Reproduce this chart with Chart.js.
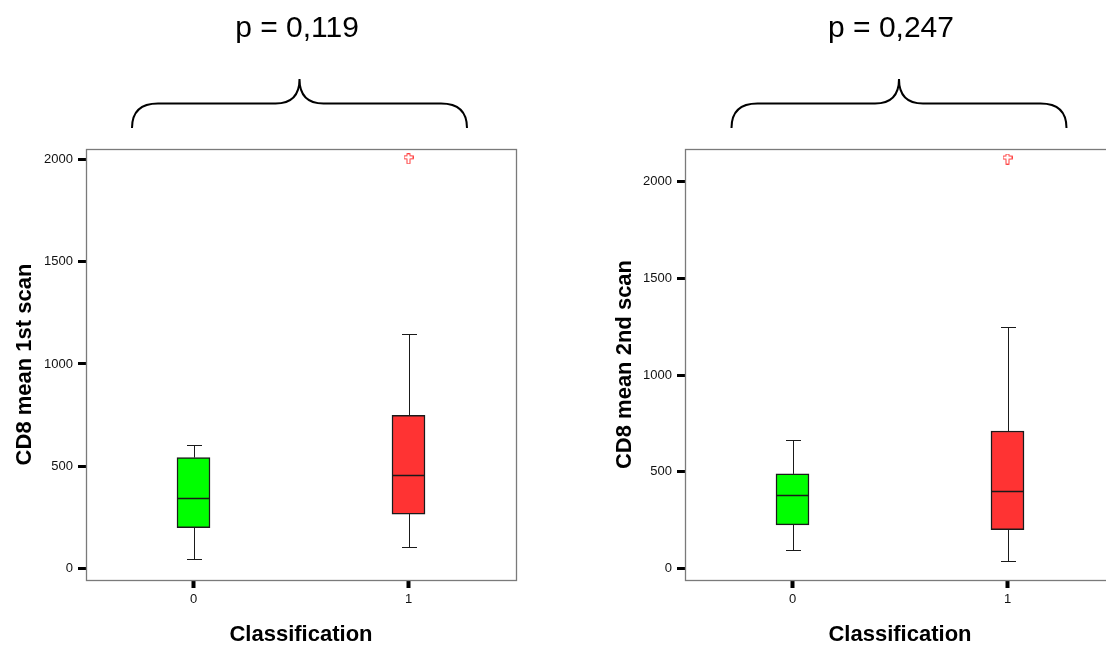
<!DOCTYPE html>
<html><head><meta charset="utf-8">
<script src="https://cdn.jsdelivr.net/npm/chart.js@4/dist/chart.umd.min.js"></script>
<style>
html,body{margin:0;padding:0;background:#fff;overflow:hidden;width:1106px;height:648px;position:relative;}
#c1{position:absolute;left:0;top:0;}
#c2{position:absolute;left:560px;top:0;}
</style></head><body>
<canvas id="c1" width="560" height="648"></canvas>
<canvas id="c2" width="600" height="648"></canvas>
<script>
// ---- data ----
const categories = ['0', '1'];
const yTickValues = [0, 500, 1000, 1500, 2000];
const boxColors = ['#00ff00', '#ff3333'];

// CD8 mean 1st scan: five-number summaries per class
const scan1Min    = [48, 106];
const scan1Q1     = [200, 267];
const scan1Median = [347, 457];
const scan1Q3     = [543, 749];
const scan1Max    = [602, 1145];
const scan1Outlier = [null, 2002];

// CD8 mean 2nd scan
const scan2Min    = [93, 37];
const scan2Q1     = [225, 200];
const scan2Median = [381, 402];
const scan2Q3     = [489, 711];
const scan2Max    = [665, 1248];
const scan2Outlier = [null, 2118];

const pLabels = ['p = 0,119', 'p = 0,247'];
const yTitles = ['CD8 mean 1st scan', 'CD8 mean 2nd scan'];
const xTitle = 'Classification';

const FONT = "'Liberation Sans', Arial, Helvetica, sans-serif";

// outlier marker (hollow red cross)
const crossImg = document.createElement('canvas');
crossImg.width = 10; crossImg.height = 11;
(function(){
  const c = crossImg.getContext('2d');
  c.beginPath();
  const p = [[3.5,0.5],[6.5,0.5],[6.5,2.5],[9.5,2.5],[9.5,5.5],[6.5,5.5],[6.5,10.5],[3.5,10.5],[3.5,5.5],[0.5,5.5],[0.5,2.5],[3.5,2.5]];
  c.moveTo(p[0][0], p[0][1]);
  for (let i = 1; i < p.length; i++) c.lineTo(p[i][0], p[i][1]);
  c.closePath();
  c.fillStyle = '#fff'; c.fill();
  c.strokeStyle = '#ff3b3b'; c.lineWidth = 1; c.stroke();
})();

const boxExtras = {
  id: 'boxExtras',
  beforeDatasetsDraw(chart, args, o) {
    const {ctx, scales: {x, y}} = chart;
    const s = o.stats;
    ctx.save();
    ctx.strokeStyle = '#1a1a1a'; ctx.lineWidth = 1;
    s.min.forEach((mn, i) => {
      const px = Math.round(x.getPixelForValue(i)) + 0.5;
      const yMin = Math.round(y.getPixelForValue(mn)) + 0.5;
      const yMax = Math.round(y.getPixelForValue(s.max[i])) + 0.5;
      const yQ1 = y.getPixelForValue(s.q1[i]);
      const yQ3 = y.getPixelForValue(s.q3[i]);
      ctx.beginPath();
      ctx.moveTo(px, yMin); ctx.lineTo(px, yQ1);
      ctx.moveTo(px, yQ3); ctx.lineTo(px, yMax);
      ctx.moveTo(px - 7.5, yMin); ctx.lineTo(px + 7.5, yMin);
      ctx.moveTo(px - 7.5, yMax); ctx.lineTo(px + 7.5, yMax);
      ctx.stroke();
    });
    ctx.restore();
  },
  afterDatasetsDraw(chart, args, o) {
    const {ctx, scales: {x, y}, chartArea: a} = chart;
    const s = o.stats;
    ctx.save();
    ctx.strokeStyle = '#1a1a1a'; ctx.lineWidth = 1.5;
    s.median.forEach((md, i) => {
      const px = x.getPixelForValue(i);
      const py = Math.round(y.getPixelForValue(md)) + 0.5;
      ctx.beginPath();
      ctx.moveTo(px - 16.5, py); ctx.lineTo(px + 16.5, py);
      ctx.stroke();
    });
    // frame
    ctx.strokeStyle = '#7a7a7a'; ctx.lineWidth = 1.3;
    ctx.strokeRect(Math.round(a.left) + 0.5, Math.round(a.top) + 0.5,
                   Math.round(a.right - a.left), Math.round(a.bottom - a.top));
    ctx.restore();
  },
  afterDraw(chart, args, o) {
    const {ctx, chartArea: a} = chart;
    const cx = (a.left + a.right) / 2 + o.braceDx;
    ctx.save();
    // p-value text
    ctx.fillStyle = '#000';
    ctx.font = '30px ' + FONT;
    ctx.textAlign = 'center';
    ctx.textBaseline = 'alphabetic';
    ctx.fillText(o.label, (a.left + a.right) / 2 + o.textDx, 37);
    // brace
    const L = cx - 167.5, R = cx + 167.5, yEnd = 128, yH = 103.5, yTip = 79;
    ctx.strokeStyle = '#000'; ctx.lineWidth = 2;
    ctx.beginPath();
    ctx.moveTo(L, yEnd);
    ctx.bezierCurveTo(L, 111, L + 9, yH, L + 26, yH);
    ctx.lineTo(cx - 24, yH);
    ctx.bezierCurveTo(cx - 8, yH, cx, 96, cx, yTip);
    ctx.bezierCurveTo(cx, 96, cx + 8, yH, cx + 24, yH);
    ctx.lineTo(R - 26, yH);
    ctx.bezierCurveTo(R - 9, yH, R, 111, R, yEnd);
    ctx.stroke();
    ctx.restore();
  }
};

function makeChart(id, cfg) {
  const stats = {min: cfg.min, q1: cfg.q1, median: cfg.median, q3: cfg.q3, max: cfg.max};
  return new Chart(document.getElementById(id), {
    type: 'bar',
    data: {
      labels: categories,
      datasets: [
        {
          type: 'bar',
          data: categories.map((c, i) => [cfg.q1[i], cfg.q3[i]]),
          backgroundColor: boxColors,
          borderColor: '#1a1a1a',
          borderWidth: 1.5,
          borderSkipped: false,
          barThickness: 33,
          order: 2
        },
        {
          type: 'line',
          data: cfg.outlier,
          showLine: false,
          pointStyle: crossImg,
          pointRadius: 5,
          order: 1
        }
      ]
    },
    options: {
      responsive: false,
      animation: false,
      devicePixelRatio: 1,
      layout: {padding: {top: 149, left: cfg.padLeft, right: cfg.padRight, bottom: 0}},
      plugins: {
        legend: {display: false},
        tooltip: {enabled: false},
        boxExtras: {stats, label: cfg.label, braceDx: cfg.braceDx, textDx: cfg.textDx}
      },
      scales: {
        x: {
          type: 'category',
          offset: true,
          grid: {display: true, drawOnChartArea: false, offset: false, tickLength: 8, tickWidth: 4, tickColor: '#000'},
          border: {display: false},
          ticks: {font: {family: FONT, size: 13}, color: '#111', padding: 4},
          title: {display: true, text: xTitle, color: '#000',
                  font: {family: FONT, size: 22, weight: 'bold'}, padding: {top: 0, bottom: 0}},
          afterFit(s) { s.height = 68; }
        },
        y: {
          type: 'linear',
          min: cfg.yMin, max: cfg.yMax,
          afterBuildTicks(s) { s.ticks = yTickValues.map(v => ({value: v})); },
          grid: {display: true, drawOnChartArea: false, tickLength: 8, tickWidth: 3, tickColor: '#000'},
          border: {display: false},
          ticks: {font: {family: FONT, size: 13}, color: '#111', padding: 5, callback: v => String(v)},
          title: {display: true, text: cfg.yTitle, color: '#000',
                  font: {family: FONT, size: 22, weight: 'bold'}, padding: {top: 12, bottom: 0}},
          afterFit(s) { s.width = cfg.axisWidth; }
        }
      }
    },
    plugins: [boxExtras]
  });
}

makeChart('c1', {
  min: scan1Min, q1: scan1Q1, median: scan1Median, q3: scan1Q3, max: scan1Max, outlier: scan1Outlier,
  yMin: -55, yMax: 2050, yTitle: yTitles[0], label: pLabels[0],
  padLeft: 0, padRight: 44, axisWidth: 86, braceDx: -1.5, textDx: -4
});
makeChart('c2', {
  min: scan2Min, q1: scan2Q1, median: scan2Median, q3: scan2Q3, max: scan2Max, outlier: scan2Outlier,
  yMin: -60, yMax: 2170, yTitle: yTitles[1], label: pLabels[1],
  padLeft: 40, padRight: 45, axisWidth: 85, braceDx: -1, textDx: -9
});
</script>
</body></html>
